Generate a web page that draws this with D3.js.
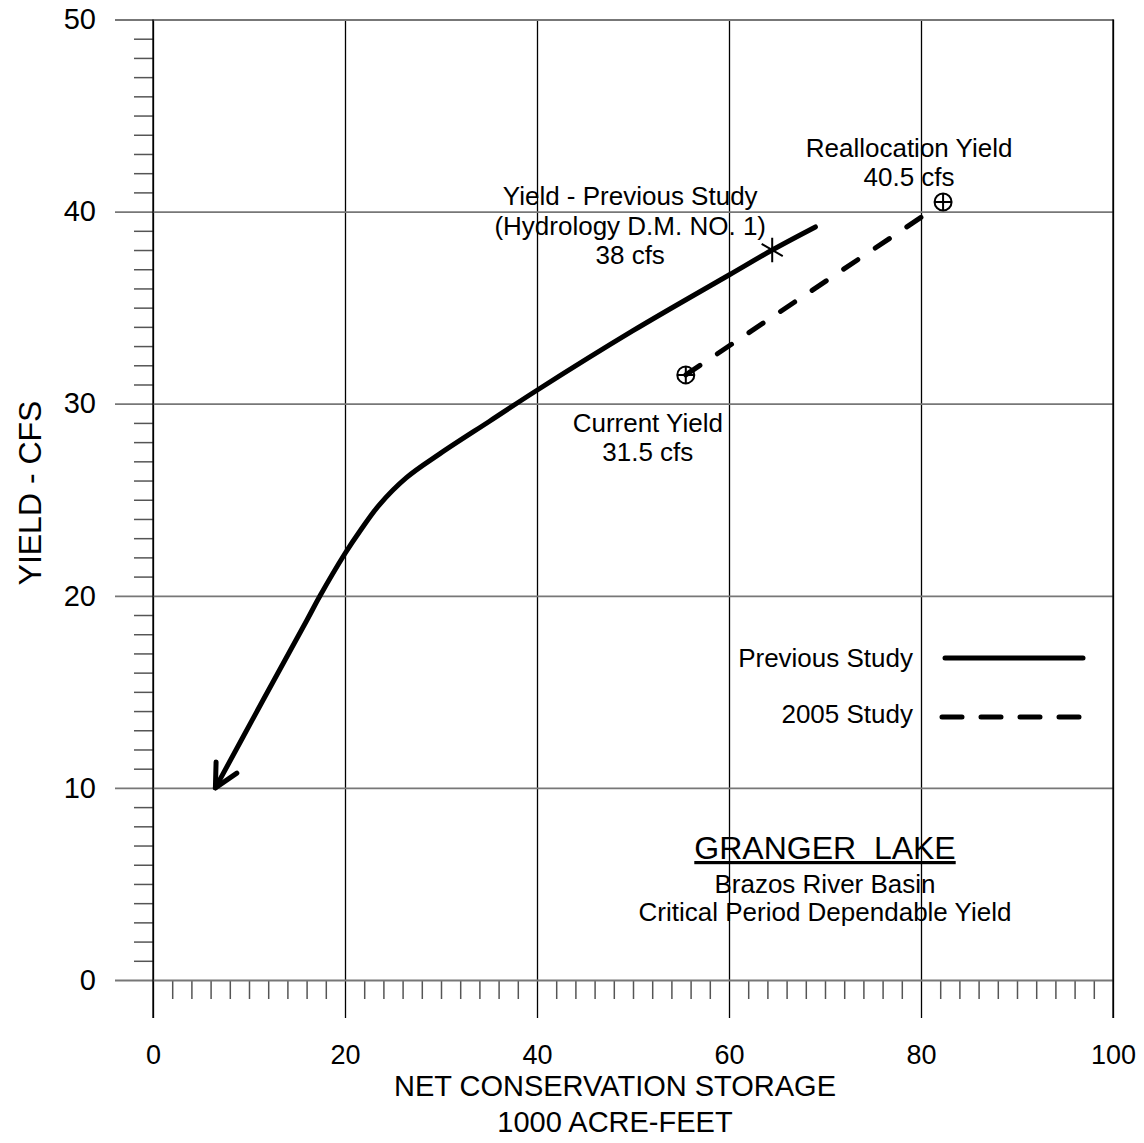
<!DOCTYPE html>
<html>
<head>
<meta charset="utf-8">
<script src="https://cdn.jsdelivr.net/npm/d3@7"></script>
<style>
  body { margin: 0; background: #fff; }
  svg text { font-family: 'Liberation Sans', Arial, sans-serif; fill: #000; }
</style>
</head>
<body>
<svg id="chart" width="1144" height="1143"></svg>
<script>
// values
const xTicks = [0, 20, 40, 60, 80, 100]
const yTicks = [0, 10, 20, 30, 40, 50]
const xMinor = d3.range(2, 100, 2).filter(d => d % 20 !== 0)
const yMinor = d3.range(1, 50, 1).filter(d => d % 10 !== 0)

const prevStorage = [6.5, 11.5, 16, 17.4, 20, 21.6, 23.6, 26.4, 29.9, 35.1, 40, 50, 60, 64.5, 69]
const prevYield = [10, 14.6, 18.7, 20, 22.2, 23.4, 24.75, 26.15, 27.4, 29.1, 30.7, 33.8, 36.7, 38, 39.2]

const newStorage = [55.5, 80.6]
const newYield = [31.5, 39.9]

const prevPoint = { storage: 64.5, yield: 38, lines: ['Yield - Previous Study', '(Hydrology D.M. NO. 1)', '38 cfs'] }
const currentPoint = { storage: 55.5, yield: 31.5, lines: ['Current Yield', '31.5 cfs'] }
const reallocPoint = { storage: 82.3, yield: 40.5, lines: ['Reallocation Yield', '40.5 cfs'] }

const legendLabels = ['Previous Study', '2005 Study']
const titleLines = ['GRANGER  LAKE', 'Brazos River Basin', 'Critical Period Dependable Yield']
const xTitleLines = ['NET CONSERVATION STORAGE', '1000 ACRE-FEET']

const svg = d3.select('#chart')
const x = d3.scaleLinear().domain([0, 100]).range([153, 1113])
const y = d3.scaleLinear().domain([0, 50]).range([980, 19.5])

// vertical grid + major x ticks (extend below the plot)
const xMajor = svg.append('g')
	.attr('transform', 'translate(0,1018)')
	.call(d3.axisBottom(x).tickValues(xTicks).tickSizeInner(-(1018 - 19.5)).tickSizeOuter(0).tickPadding(0))
xMajor.select('.domain').remove()
xMajor.selectAll('line').attr('stroke', '#000').attr('stroke-width', 1.3)
xMajor.selectAll('text')
	.attr('y', 46).attr('dy', 0)
	.attr('font-size', 27).attr('font-family', null)

// minor x ticks
const xMin = svg.append('g')
	.attr('transform', 'translate(0,980)')
	.call(d3.axisBottom(x).tickValues(xMinor).tickSize(19).tickFormat(''))
xMin.select('.domain').remove()
xMin.selectAll('line').attr('stroke', '#555').attr('stroke-width', 1.5)

// horizontal grid + y labels
const yMajor = svg.append('g')
	.attr('transform', 'translate(115,0)')
	.call(d3.axisLeft(y).tickValues(yTicks).tickSizeInner(-(1113 - 115)).tickSizeOuter(0).tickPadding(19))
yMajor.select('.domain').remove()
yMajor.selectAll('line').attr('stroke', '#777').attr('stroke-width', 1.8)
yMajor.selectAll('text').attr('font-size', 29).attr('font-family', null)

// minor y ticks
const yMin = svg.append('g')
	.attr('transform', 'translate(153,0)')
	.call(d3.axisLeft(y).tickValues(yMinor).tickSize(19).tickFormat(''))
yMin.select('.domain').remove()
yMin.selectAll('line').attr('stroke', '#555').attr('stroke-width', 1.5)

// redraw the left axis and right border over the grey grid
svg.append('g').selectAll('line')
	.data([0, 100])
	.join('line')
	.attr('x1', d => x(d)).attr('x2', d => x(d))
	.attr('y1', 19.5).attr('y2', 1018)
	.attr('stroke', '#000').attr('stroke-width', 1.3)

// axis titles
svg.append('text')
	.attr('transform', `translate(41,493) rotate(-90)`)
	.attr('text-anchor', 'middle')
	.attr('font-size', 32)
	.text('YIELD - CFS')

svg.append('text')
	.attr('text-anchor', 'middle')
	.attr('font-size', 29)
	.selectAll('tspan')
	.data(xTitleLines)
	.join('tspan')
	.attr('x', 615)
	.attr('y', (d, i) => 1096 + i * 36)
	.text(d => d)

// previous study curve
const prevData = prevStorage.map((s, i) => [s, prevYield[i]])
const line = d3.line().x(d => x(d[0])).y(d => y(d[1])).curve(d3.curveCatmullRom.alpha(0.5))

svg.append('path')
	.datum(prevData)
	.attr('d', line)
	.attr('fill', 'none')
	.attr('stroke', '#000')
	.attr('stroke-width', 5)
	.attr('stroke-linecap', 'round')
	.attr('stroke-linejoin', 'round')

// open arrow head at the low end
const tip = [x(prevData[0][0]), y(prevData[0][1])]
const nxt = [x(prevData[1][0]), y(prevData[1][1])]
const ang = Math.atan2(nxt[1] - tip[1], nxt[0] - tip[0])
const barb = 26
const spread = 27 * Math.PI / 180
const arrowPath = d3.path()
arrowPath.moveTo(tip[0] + barb * Math.cos(ang - spread), tip[1] + barb * Math.sin(ang - spread))
arrowPath.lineTo(tip[0], tip[1])
arrowPath.lineTo(tip[0] + barb * Math.cos(ang + spread), tip[1] + barb * Math.sin(ang + spread))
svg.append('path')
	.attr('d', arrowPath.toString())
	.attr('fill', 'none')
	.attr('stroke', '#000')
	.attr('stroke-width', 5)
	.attr('stroke-linecap', 'round')
	.attr('stroke-linejoin', 'round')

// 2005 study dashed line
const newData = newStorage.map((s, i) => [s, newYield[i]])
svg.append('path')
	.datum(newData)
	.attr('d', d3.line().x(d => x(d[0])).y(d => y(d[1])))
	.attr('fill', 'none')
	.attr('stroke', '#000')
	.attr('stroke-width', 5)
	.attr('stroke-dasharray', '17 21')
	.attr('stroke-linecap', 'round')

// markers
svg.append('path')
	.attr('transform', `translate(${x(prevPoint.storage)},${y(prevPoint.yield)})`)
	.attr('d', d3.symbol(d3.symbolAsterisk, 420)())
	.attr('fill', 'none')
	.attr('stroke', '#000')
	.attr('stroke-width', 2)

const circ = svg.append('g').selectAll('g')
	.data([currentPoint, reallocPoint])
	.join('g')
	.attr('transform', d => `translate(${x(d.storage)},${y(d.yield)})`)
circ.append('circle').attr('r', 8.5).attr('fill', 'none').attr('stroke', '#000').attr('stroke-width', 2)
circ.append('path').attr('d', 'M-8.5,0H8.5M0,-8.5V8.5').attr('stroke', '#000').attr('stroke-width', 2)

// annotations
function note(p, dx, dy) {
	svg.append('text')
		.attr('text-anchor', 'middle')
		.attr('font-size', 26)
		.selectAll('tspan')
		.data(p.lines)
		.join('tspan')
		.attr('x', x(p.storage) + dx)
		.attr('y', (d, i) => y(p.yield) + dy + i * 29.5)
		.text(d => d)
}
note(prevPoint, -142, -45)
note(reallocPoint, -34, -45)
note(currentPoint, -38, 57)

// legend
const legend = svg.append('g')
legend.selectAll('text')
	.data(legendLabels)
	.join('text')
	.attr('x', 913)
	.attr('y', (d, i) => 667 + i * 56)
	.attr('text-anchor', 'end')
	.attr('font-size', 26)
	.text(d => d)
legend.selectAll('line')
	.data(legendLabels)
	.join('line')
	.attr('x1', (d, i) => i ? 942 : 945)
	.attr('x2', 1083)
	.attr('y1', (d, i) => 658 + i * 59)
	.attr('y2', (d, i) => 658 + i * 59)
	.attr('stroke', '#000')
	.attr('stroke-width', 5)
	.attr('stroke-linecap', 'round')
	.attr('stroke-dasharray', (d, i) => i ? '20 19' : null)

// title block
const title = svg.append('text').attr('text-anchor', 'middle')
title.selectAll('tspan')
	.data(titleLines)
	.join('tspan')
	.attr('x', 825)
	.attr('y', (d, i) => [859, 893, 921][i])
	.attr('font-size', (d, i) => i ? 26 : 32)
	.attr('text-decoration', (d, i) => i ? null : 'underline')
	.style('white-space', 'pre')
	.text(d => d)
</script>
</body>
</html>
